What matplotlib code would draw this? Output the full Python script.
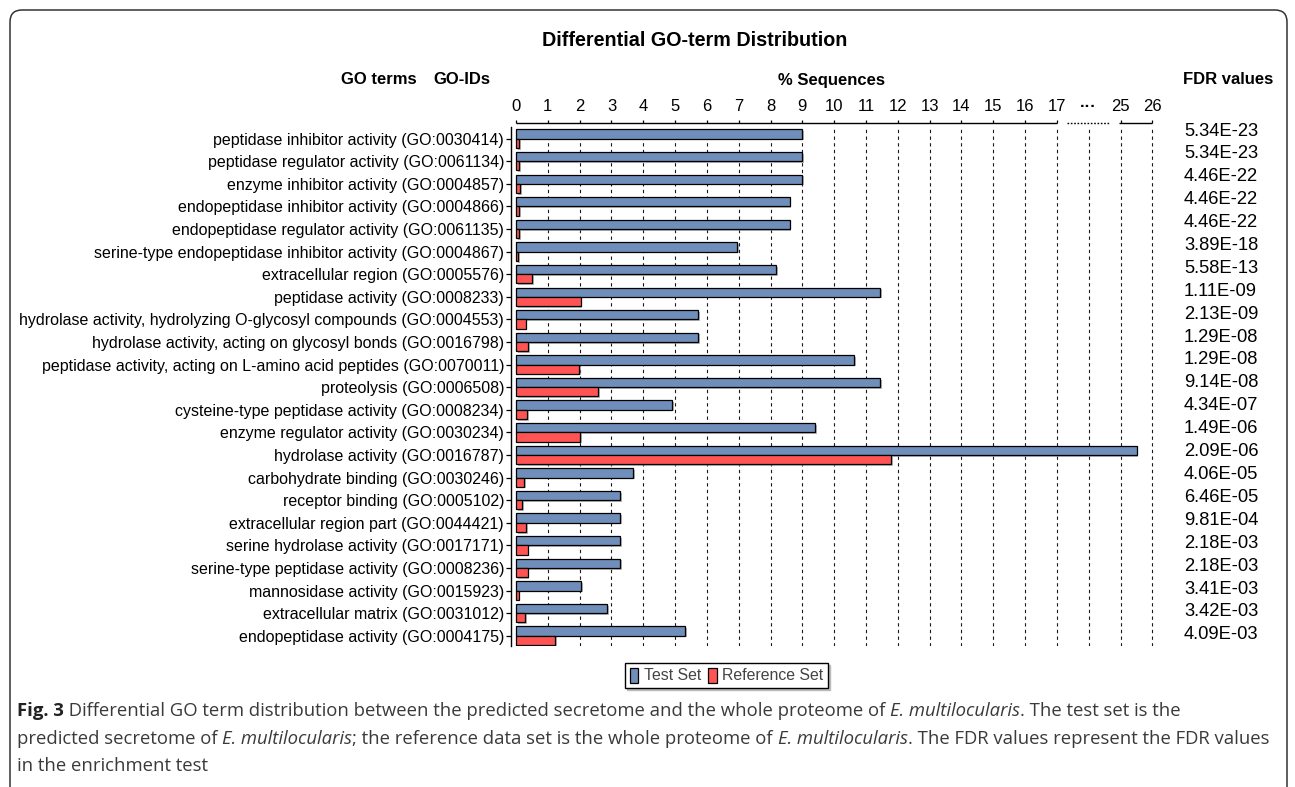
import numpy as np
import matplotlib
matplotlib.use("Agg")
import matplotlib.pyplot as plt
from matplotlib import font_manager
from matplotlib.patches import Patch, FancyBboxPatch
from matplotlib.transforms import IdentityTransform, blended_transform_factory
import matplotlib.patheffects as pe

# ---------------------------------------------------------------- data
go_terms = [
    "peptidase inhibitor activity (GO:0030414)",
    "peptidase regulator activity (GO:0061134)",
    "enzyme inhibitor activity (GO:0004857)",
    "endopeptidase inhibitor activity (GO:0004866)",
    "endopeptidase regulator activity (GO:0061135)",
    "serine-type endopeptidase inhibitor activity (GO:0004867)",
    "extracellular region (GO:0005576)",
    "peptidase activity (GO:0008233)",
    "hydrolase activity, hydrolyzing O-glycosyl compounds (GO:0004553)",
    "hydrolase activity, acting on glycosyl bonds (GO:0016798)",
    "peptidase activity, acting on L-amino acid peptides (GO:0070011)",
    "proteolysis (GO:0006508)",
    "cysteine-type peptidase activity (GO:0008234)",
    "enzyme regulator activity (GO:0030234)",
    "hydrolase activity (GO:0016787)",
    "carbohydrate binding (GO:0030246)",
    "receptor binding (GO:0005102)",
    "extracellular region part (GO:0044421)",
    "serine hydrolase activity (GO:0017171)",
    "serine-type peptidase activity (GO:0008236)",
    "mannosidase activity (GO:0015923)",
    "extracellular matrix (GO:0031012)",
    "endopeptidase activity (GO:0004175)",
]

test_set = [9.0, 9.0, 9.0, 8.6, 8.6, 6.94, 8.18, 11.45, 5.72, 5.72, 10.63,
            11.45, 4.9, 9.4, 25.5, 3.69, 3.27, 3.27, 3.27, 3.27, 2.04, 2.87, 5.32]

reference_set = [0.10, 0.10, 0.14, 0.10, 0.10, 0.07, 0.51, 2.03, 0.30, 0.39, 1.99,
                 2.59, 0.35, 2.02, 11.79, 0.26, 0.20, 0.31, 0.37, 0.37, 0.08, 0.28, 1.24]

fdr_values = ["5.34E-23", "5.34E-23", "4.46E-22", "4.46E-22", "4.46E-22",
              "3.89E-18", "5.58E-13", "1.11E-09", "2.13E-09", "1.29E-08",
              "1.29E-08", "9.14E-08", "4.34E-07", "1.49E-06", "2.09E-06",
              "4.06E-05", "6.46E-05", "9.81E-04", "2.18E-03", "2.18E-03",
              "3.41E-03", "3.42E-03", "4.09E-03"]

tick_labels = [str(i) for i in range(18)] + ["\u00b7\u00b7\u00b7", "25", "26"]

# broken axis: everything above 17 jumps so that 25 sits on axis position 19
BREAK_START = 17
BREAK_VALUE = 25
BREAK_POS = 19


def to_axis(v):
    return v if v <= BREAK_START else v - (BREAK_VALUE - BREAK_POS)


# ---------------------------------------------------------------- style
installed = {f.name for f in font_manager.fontManager.ttflist}
SANS = "Liberation Sans"
NARROW = "Liberation Sans Narrow" if "Liberation Sans Narrow" in installed else SANS
CAPTION = "Open Sans"
plt.rcParams["font.family"] = [SANS, "DejaVu Sans"]

BLUE = "#6f8eba"
RED = "#ff5454"

W, H = 1295, 787
fig = plt.figure(figsize=(W / 100, H / 100), dpi=100)
fig.patch.set_facecolor("white")


def fx(px):
    return px / W


def fy(py):
    return 1 - py / H


# outer rounded frame
frame = FancyBboxPatch((10, -20), 1277, H - 10 + 20,
                       boxstyle="round,pad=0,rounding_size=12",
                       transform=IdentityTransform(), facecolor="none",
                       edgecolor="#333333", linewidth=1.1)
fig.patches.append(frame)

# ---------------------------------------------------------------- axes
ax_left, ax_right, ax_top, ax_bottom = 511, 1153.7, 123, 645.7
ax = fig.add_axes([fx(ax_left), fy(ax_bottom),
                   (ax_right - ax_left) / W, (ax_bottom - ax_top) / H])

n = len(go_terms)
rows = np.arange(n)
bar_h = 0.41
shadow = [pe.SimplePatchShadow(offset=(1.2, -1.2), shadow_rgbFace="#888888", alpha=0.6),
          pe.Normal()]

blue_bars = ax.barh(rows - bar_h / 2, [to_axis(v) for v in test_set], height=bar_h,
                    color=BLUE, edgecolor="black", linewidth=0.9, zorder=3)
red_bars = ax.barh(rows + bar_h / 2, [to_axis(v) for v in reference_set], height=bar_h,
                   color=RED, edgecolor="black", linewidth=0.9, zorder=3)
for p in list(blue_bars) + list(red_bars):
    p.set_path_effects(shadow)

ax.set_xlim(-0.157, 20.04)
ax.set_ylim(22.44, -0.689)

# dashed vertical grid
for pos in range(1, 21):
    ax.axvline(pos, ymin=0, ymax=0.992, color="#1a1a1a", linewidth=0.8,
               linestyle=(0, (3, 3)), zorder=1)

# top axis line with the break
top = blended_transform_factory(ax.transData, ax.transAxes)
ax.plot([0, BREAK_START], [1, 1], transform=top, color="black", lw=1.0,
        clip_on=False, solid_capstyle="butt")
ax.plot([17.3, 18.65], [1, 1], transform=top, color="black", lw=1.0,
        linestyle=(0, (1.2, 1.2)), clip_on=False)
ax.plot([18.95, 20], [1, 1], transform=top, color="black", lw=1.0,
        clip_on=False, solid_capstyle="butt")

for side in ("top", "right", "bottom"):
    ax.spines[side].set_visible(False)
ax.spines["left"].set_bounds(22.44, -0.51)
ax.spines["left"].set_linewidth(1.0)

ax.xaxis.tick_top()
ax.set_xticks(range(21))
ax.set_xticklabels(tick_labels, fontfamily=NARROW, fontsize=12)
ax.tick_params(axis="x", direction="out", length=2.5, width=0.9, pad=4)
ax.xaxis.get_major_ticks()[18].tick2line.set_visible(False)
ax.get_xticklabels()[18].set_fontweight("bold")

ax.set_yticks(rows)
ax.set_yticklabels(go_terms, fontsize=11.55)
ax.tick_params(axis="y", direction="out", length=3.5, width=0.9, pad=1.5)

# ---------------------------------------------------------------- headers
fig.text(fx(695), fy(40), "Differential GO-term Distribution", ha="center",
         va="center", fontsize=14.2, fontweight="bold")
head = dict(va="center", fontsize=12, fontweight="bold", fontfamily=NARROW)
fig.text(fx(417), fy(80), "GO terms", ha="right", **head)
fig.text(fx(490), fy(80), "GO-IDs", ha="right", **head)
fig.text(fx(832), fy(80), "% Sequences", ha="center", **head)
fig.text(fx(1273), fy(80), "FDR values", ha="right", **head)

for i, val in enumerate(fdr_values):
    fig.text(fx(1184), fy(131 + i * 22.9), val, ha="left", va="center", fontsize=13.2)

# ---------------------------------------------------------------- legend
handles = [Patch(facecolor=BLUE, edgecolor="black", linewidth=0.9),
           Patch(facecolor=RED, edgecolor="black", linewidth=0.9)]
leg = fig.legend(handles, ["Test Set", "Reference Set"], loc="center",
                 bbox_to_anchor=(fx(726.5), fy(675.5)), ncol=2, fontsize=11.4,
                 handlelength=0.55, handleheight=1.1, handletextpad=0.35,
                 columnspacing=0.45, borderpad=0.3, fancybox=False,
                 edgecolor="black", framealpha=1, labelcolor="#444444",
                 shadow={"ox": 1.5, "oy": -1.5, "color": "#bbbbbb", "alpha": 1})
leg.get_frame().set_linewidth(1.0)

# ---------------------------------------------------------------- caption
renderer = fig.canvas.get_renderer()
cap_size = 13.3
cap_color = "#3a3a3a"


def run_width(text_obj):
    text_obj.set_text(text_obj.get_text() + "|")
    w1 = text_obj.get_window_extent(renderer).width
    bar_txt = fig.text(0, 0, "|", fontsize=cap_size, fontfamily=CAPTION,
                       fontweight=text_obj.get_fontweight(),
                       fontstyle=text_obj.get_fontstyle())
    w2 = bar_txt.get_window_extent(renderer).width
    bar_txt.remove()
    text_obj.set_text(text_obj.get_text()[:-1])
    return w1 - w2


def draw_line(y_px, runs, x_px=17):
    x = x_px
    for s, style in runs:
        weight = "bold" if style == "b" else "normal"
        fstyle = "italic" if style == "i" else "normal"
        color = "#222222" if style == "b" else cap_color
        t = fig.text(fx(x), fy(y_px), s, ha="left", va="center", fontsize=cap_size,
                     fontfamily=CAPTION, fontweight=weight, fontstyle=fstyle,
                     color=color)
        x += run_width(t)


draw_line(711, [("Fig. 3", "b"),
                (" Differential GO term distribution between the predicted secretome "
                 "and the whole proteome of ", "r"),
                ("E. multilocularis", "i"),
                (". The test set is the", "r")])
draw_line(739, [("predicted secretome of ", "r"),
                ("E. multilocularis", "i"),
                ("; the reference data set is the whole proteome of ", "r"),
                ("E. multilocularis", "i"),
                (". The FDR values represent the FDR values", "r")])
draw_line(766, [("in the enrichment test", "r")])

fig.savefig("out.png", dpi=100)
